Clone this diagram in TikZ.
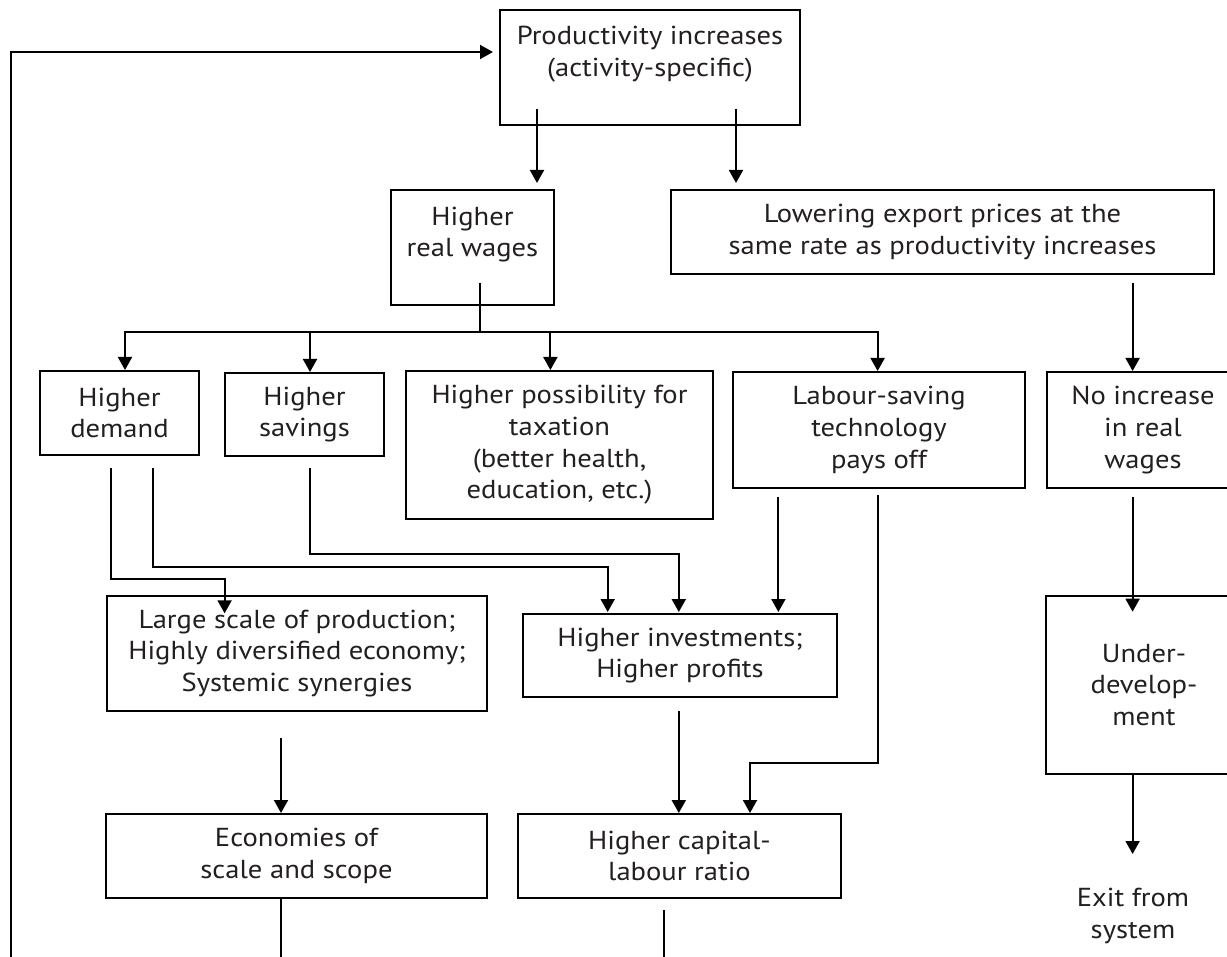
\documentclass[tikz,border=0pt]{standalone}
\usepackage{fontspec}
\setmainfont{PT Sans}[FakeStretch=1.1]
\usetikzlibrary{arrows.meta,calc}
\definecolor{txtc}{HTML}{231F20}
\begin{document}
\begin{tikzpicture}[x=0.5pt,y=-0.5pt,
  box/.style={draw, line width=1pt, align=center, inner sep=0pt, text=txtc,
    font=\fontsize{13}{15.85}\selectfont, anchor=north west},
  lbl/.style={align=center, inner sep=0pt, text=txtc, font=\fontsize{13}{15.85}\selectfont},
  conn/.style={line width=1pt},
  arr/.style={conn, -{Triangle[width=7pt,length=6.5pt]}}]
\useasboundingbox (0,0) rectangle (1227,957);
\clip (0,0) rectangle (1227,957);

% boxes
\node[box, minimum width=150pt, minimum height=57.5pt] (top) at (499,9) {Productivity increases\\(activity-specific)\\\mbox{}};
\node[box, minimum width=81.5pt, minimum height=57.5pt] (hrw) at (390,189) {Higher\\real wages\\\mbox{}};
\node[box, minimum width=271.5pt, minimum height=42pt] (low) at (670,189) {Lowering export prices at the\\same rate as productivity increases};
\node[box, minimum width=79.5pt, minimum height=42pt] (dem) at (39,370) {Higher\\demand};
\node[box, minimum width=79.5pt, minimum height=41.5pt] (sav) at (224,372) {Higher\\savings};
\node[box, minimum width=153.5pt, minimum height=74pt] (tax) at (405,370) {Higher possibility for\\taxation\\(better health,\\education, etc.)};
\node[box, minimum width=146pt, minimum height=58pt] (lab) at (732,371) {Labour-saving\\technology\\pays off};
\node[box, minimum width=96pt, minimum height=58pt] (noinc) at (1046,371) {No increase\\in real\\wages};
\node[box, minimum width=190pt, minimum height=57.5pt] (large) at (106,595) {Large scale of production;\\Highly diversified economy;\\Systemic synergies};
\node[box, minimum width=157pt, minimum height=41.5pt] (inv) at (522,613) {Higher investments;\\Higher profits};
\node[box, minimum width=98pt, minimum height=89pt] (under) at (1045,595) {Under-\\develop-\\ment};
\node[box, minimum width=190.5pt, minimum height=42pt] (econ) at (105,813) {Economies of\\scale and scope};
\node[box, minimum width=161.5pt, minimum height=42pt] (cap) at (517,813) {Higher capital-\\labour ratio};
\node[lbl] (exit) at (1133,916) {Exit from\\system};

% columns and free ends
\coordinate (fb) at (11,970);
\coordinate (bot) at (0,970);
\coordinate (bus) at (480.4,332.3);
\coordinate (cA) at (537,0);
\coordinate (cB) at (736,0);
\coordinate (cH) at (480.4,0);
\coordinate (cD) at (125,0);
\coordinate (cS) at (310,0);
\coordinate (cT) at (550.4,0);
\coordinate (cL) at (877.6,0);
\coordinate (cP) at (1132.6,0);
\coordinate (d1) at (110.7,0);
\coordinate (d2) at (153.4,0);
\coordinate (cLs) at (224.6,0);
\coordinate (i1) at (607.7,0);
\coordinate (i2) at (678.8,0);
\coordinate (l1) at (778.4,0);
\coordinate (c2) at (750,0);
\coordinate (ce) at (281,0);
\coordinate (k) at (664,0);

% connectors
\draw[arr] (fb) |- ($(top.north west)+(-6,43)$);
\draw[arr] ($(top.south -| cA)+(0,-17)$) -- ($(hrw.north -| cA)+(0,-6)$);
\draw[arr] ($(top.south -| cB)+(0,-17)$) -- ($(low.north -| cB)+(0,-6)$);
\draw[conn] ($(hrw.south -| cH)+(0,-23)$) -- (bus);
\draw[arr] (bus) -| (dem.north -| cD);
\draw[arr] (bus) -| (sav.north -| cS);
\draw[arr] (bus) -| (tax.north -| cT);
\draw[arr] (bus) -| (lab.north -| cL);
\draw[arr] ($(low.south -| cP)+(0,8)$) -- (noinc.north -| cP);
\draw[arr] ($(dem.south -| d1)+(0,12)$) -- ++(0,110.7) -| ($(large.north -| cLs)+(0,18.3)$);
\draw[arr] ($(dem.south -| d2)+(0,12)$) -- ++(0,99) -| ($(inv.north -| i1)+(0,-1)$);
\draw[arr] ($(sav.south -| cS)+(0,11)$) -- ++(0,86.3) -| ($(inv.north -| i2)+(0,-1)$);
\draw[arr] ($(lab.south -| l1)+(0,8)$) -- ($(inv.north -| l1)+(0,-1)$);
\draw[arr] ($(lab.south -| cL)+(0,6)$) -- ++(0,267.7) -| (cap.north -| c2);
\draw[arr] ($(noinc.south -| cP)+(0,8)$) -- ($(under.north -| cP)+(0,16.7)$);
\draw[arr] ($(large.south -| ce)+(0,26)$) -- (econ.north -| ce);
\draw[arr] ($(inv.south -| i2)+(0,13)$) -- (cap.north -| i2);
\draw[arr] (under.south -| cP) -- ($(under.south -| cP)+(0,79)$);
\draw[conn] (econ.south -| ce) -- (bot -| ce);
\draw[conn] ($(cap.south -| k)+(0,11)$) -- (bot -| k);
\end{tikzpicture}
\end{document}
